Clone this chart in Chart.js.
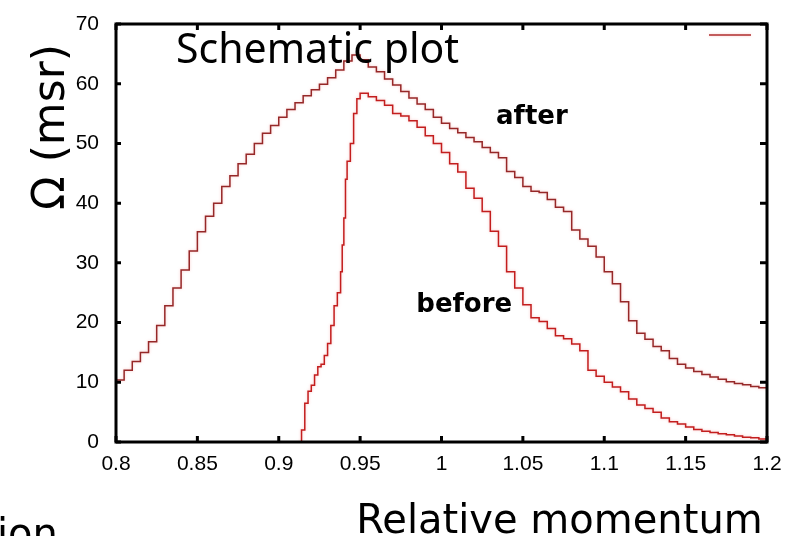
<!DOCTYPE html>
<html>
<head>
<meta charset="utf-8">
<title>Schematic plot</title>
<script src="https://cdn.jsdelivr.net/npm/chart.js@4/dist/chart.umd.min.js"></script>
<style>
  html, body { margin: 0; padding: 0; background: #fff; }
  #wrap { width: 796px; height: 536px; position: relative; }
</style>
</head>
<body>
<div id="wrap"><canvas id="myChart"></canvas></div>
<script>
const TITLE = 'Schematic plot';
const X_TITLE = 'Relative momentum';
const Y_TITLE = 'Ω (msr)';

// x ticks every 0.05, y ticks every 10
const xTicks = [0.8, 0.85, 0.9, 0.95, 1, 1.05, 1.1, 1.15, 1.2];
const xTickLabels = ['0.8', '0.85', '0.9', '0.95', '1', '1.05', '1.1', '1.15', '1.2'];
const yTicks = [0, 10, 20, 30, 40, 50, 60, 70];

// "after" curve, binned at 0.005
const afterX = [
  0.800, 0.805, 0.810, 0.815, 0.820, 0.825, 0.830, 0.835, 0.840, 0.845,
  0.850, 0.855, 0.860, 0.865, 0.870, 0.875, 0.880, 0.885, 0.890, 0.895,
  0.900, 0.905, 0.910, 0.915, 0.920, 0.925, 0.930, 0.935, 0.940, 0.945,
  0.950, 0.955, 0.960, 0.965, 0.970, 0.975, 0.980, 0.985, 0.990, 0.995,
  1.000, 1.005, 1.010, 1.015, 1.020, 1.025, 1.030, 1.035, 1.040, 1.045,
  1.050, 1.055, 1.060, 1.065, 1.070, 1.075, 1.080, 1.085, 1.090, 1.095,
  1.100, 1.105, 1.110, 1.115, 1.120, 1.125, 1.130, 1.135, 1.140, 1.145,
  1.150, 1.155, 1.160, 1.165, 1.170, 1.175, 1.180, 1.185, 1.190, 1.195,
  1.200
];
const afterY = [
  10.4, 12.0, 13.5, 15.0, 16.8, 19.5, 22.8, 25.8, 28.8, 32.0,
  35.2, 37.8, 40.0, 42.8, 44.6, 46.6, 48.2, 50.0, 51.7, 53.0,
  54.4, 55.7, 56.8, 58.0, 59.0, 59.9, 61.0, 62.3, 63.8, 64.8,
  64.0, 62.8, 62.0, 60.8, 59.8, 58.7, 57.6, 56.6, 55.7, 54.4,
  53.4, 52.5, 51.8, 51.0, 50.3, 49.3, 48.5, 47.6, 45.3, 44.3,
  42.8, 42.0, 41.8, 40.6, 39.3, 38.6, 35.5, 34.0, 32.8, 31.0,
  28.5, 26.5, 23.5, 20.3, 18.2, 17.2, 16.0, 15.3, 14.0, 13.0,
  12.4, 11.8, 11.3, 10.9, 10.5, 10.1, 9.8, 9.6, 9.3, 9.1,
  8.9
];

// "before" curve, finer bins on the steep rising edge
const beforeX = [
  0.912, 0.914, 0.916, 0.918, 0.920, 0.922, 0.924, 0.926, 0.928, 0.930,
  0.932, 0.934, 0.936, 0.938, 0.939, 0.940, 0.941, 0.942, 0.944, 0.946,
  0.948, 0.950, 0.955, 0.960, 0.965, 0.970, 0.975, 0.980, 0.985, 0.990,
  0.995, 1.000, 1.005, 1.010, 1.015, 1.020, 1.025, 1.030, 1.035, 1.040,
  1.045, 1.050, 1.055, 1.060, 1.065, 1.070, 1.075, 1.080, 1.085, 1.090,
  1.095, 1.100, 1.105, 1.110, 1.115, 1.120, 1.125, 1.130, 1.135, 1.140,
  1.145, 1.150, 1.155, 1.160, 1.165, 1.170, 1.175, 1.180, 1.185, 1.190,
  1.195, 1.200
];
const beforeY = [
  0.0, 2.0, 6.5, 8.5, 9.5, 11.2, 12.6, 13.0, 14.5, 16.5,
  19.5, 22.8, 25.0, 28.5, 33.0, 37.5, 44.0, 47.0, 50.0, 55.0,
  57.5, 58.4, 57.8, 57.2, 56.4, 55.0, 54.6, 53.8, 52.7, 51.3,
  50.0, 48.5, 46.6, 45.2, 42.5, 40.8, 38.6, 35.3, 32.8, 28.5,
  25.8, 23.0, 20.8, 20.2, 19.0, 17.8, 17.3, 16.4, 15.3, 12.0,
  11.0, 10.0, 9.2, 8.4, 7.2, 6.2, 5.6, 5.0, 4.0, 3.4,
  3.0, 2.5, 2.1, 1.8, 1.6, 1.4, 1.2, 1.0, 0.8, 0.7,
  0.5, 0.4
];

const toPoints = (xs, ys) => xs.map((x, i) => ({x: x, y: ys[i]}));

// soft pink halo around the histogram lines
const halo = {
  id: 'halo',
  beforeDatasetDraw(chart) {
    const ctx = chart.ctx;
    ctx.save();
    ctx.shadowColor = 'rgba(245,160,160,0.6)';
    ctx.shadowBlur = 3;
  },
  afterDatasetDraw(chart) {
    chart.ctx.restore();
  }
};

// frame, inward ticks and the free text on the figure
const decorations = {
  id: 'decorations',
  afterDraw(chart) {
    const ctx = chart.ctx;
    const a = chart.chartArea;
    const xs = chart.scales.x, ys = chart.scales.y;
    ctx.save();

    ctx.strokeStyle = '#000';
    ctx.lineWidth = 3;
    ctx.strokeRect(a.left, a.top, a.right - a.left, a.bottom - a.top);

    ctx.beginPath();
    xTicks.forEach(v => {
      const px = xs.getPixelForValue(v);
      ctx.moveTo(px, a.bottom); ctx.lineTo(px, a.bottom - 6);
      ctx.moveTo(px, a.top); ctx.lineTo(px, a.top + 6);
    });
    yTicks.forEach(v => {
      const py = ys.getPixelForValue(v);
      ctx.moveTo(a.left, py); ctx.lineTo(a.left + 5, py);
      ctx.moveTo(a.right, py); ctx.lineTo(a.right - 7, py);
    });
    ctx.stroke();

    // legend sample, no label
    ctx.shadowColor = 'rgba(245,160,160,0.6)';
    ctx.shadowBlur = 3;
    ctx.strokeStyle = 'rgb(175,45,45)';
    ctx.lineWidth = 1.5;
    ctx.beginPath();
    ctx.moveTo(a.right - 58, a.top + 11);
    ctx.lineTo(a.right - 16, a.top + 11);
    ctx.stroke();
    ctx.shadowBlur = 0;

    ctx.fillStyle = '#000';
    ctx.textBaseline = 'alphabetic';

    ctx.font = '41px "Noto Sans"';
    ctx.textAlign = 'left';
    ctx.fillText(TITLE, a.left + 60, a.top + 39);

    ctx.font = 'bold 26px "DejaVu Sans"';
    ctx.fillText('after', xs.getPixelForValue(1.0335), ys.getPixelForValue(53.3));
    ctx.fillText('before', xs.getPixelForValue(0.9845), ys.getPixelForValue(21.8));

    ctx.font = '40px "DejaVu Sans"';
    ctx.textAlign = 'center';
    ctx.fillText(X_TITLE, (a.left + a.right) / 2 + 118, 533);
    ctx.textAlign = 'left';
    ctx.fillText('ion', -3, 547);

    ctx.translate(64, (a.top + a.bottom) / 2 - 106);
    ctx.rotate(-Math.PI / 2);
    ctx.textAlign = 'center';
    ctx.font = '44px "DejaVu Sans"';
    ctx.fillText(Y_TITLE, 0, 0);

    ctx.restore();
  }
};

const data = {
  datasets: [{
    label: 'after',
    data: toPoints(afterX, afterY),
    borderColor: 'rgb(150,40,40)',
    borderWidth: 1.5,
    stepped: true,
    pointRadius: 0,
    fill: false
  }, {
    label: 'before',
    data: toPoints(beforeX, beforeY),
    borderColor: 'rgb(195,30,30)',
    borderWidth: 1.5,
    stepped: true,
    pointRadius: 0,
    fill: false
  }]
};

const tickFont = {family: 'Liberation Sans', size: 21};

const config = {
  type: 'line',
  data: data,
  options: {
    responsive: true,
    maintainAspectRatio: false,
    animation: false,
    layout: {padding: {left: 0, top: 24, right: 29, bottom: 64}},
    plugins: {
      legend: {display: false},
      tooltip: {enabled: false}
    },
    scales: {
      x: {
        type: 'linear',
        min: 0.8,
        max: 1.2,
        grid: {display: false},
        border: {display: false},
        afterFit: (scale) => { scale.height = 30; },
        afterBuildTicks: (scale) => { scale.ticks = xTicks.map(v => ({value: v})); },
        ticks: {
          font: tickFont,
          color: '#000',
          padding: 2,
          maxRotation: 0,
          autoSkip: false,
          callback: (value) => xTickLabels[xTicks.indexOf(value)]
        }
      },
      y: {
        min: 0,
        max: 70,
        grid: {display: false},
        border: {display: false},
        afterFit: (scale) => { scale.width = 116; },
        ticks: {
          stepSize: 10,
          font: tickFont,
          color: '#000',
          padding: 9
        }
      }
    }
  },
  plugins: [halo, decorations]
};

const myChart = new Chart(document.getElementById('myChart'), config);
</script>
</body>
</html>
